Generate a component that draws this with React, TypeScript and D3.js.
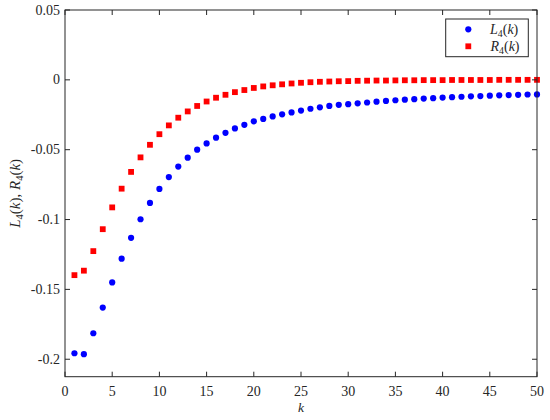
import React from "react";
import * as d3 from "d3";

const kValues = [1,2,3,4,5,6,7,8,9,10,11,12,13,14,15,16,17,18,19,20,21,22,23,24,25,26,27,28,29,30,31,32,33,34,35,36,37,38,39,40,41,42,43,44,45,46,47,48,49,50];

const L4 = [
  -0.1957, -0.1964, -0.1814, -0.1630, -0.1450, -0.1280, -0.1131, -0.0998, -0.0881, -0.0781,
  -0.0696, -0.0621, -0.0557, -0.0500, -0.0455, -0.0414, -0.0379, -0.0348, -0.0322, -0.0297,
  -0.0280, -0.0262, -0.0247, -0.0233, -0.0220, -0.0207, -0.0197, -0.0187, -0.0179, -0.0174,
  -0.0168, -0.0162, -0.0156, -0.0151, -0.0146, -0.0142, -0.0138, -0.0134, -0.0131, -0.0127,
  -0.0124, -0.0121, -0.0118, -0.0116, -0.0113, -0.0111, -0.0109, -0.0107, -0.0105, -0.0104,
];

const R4 = [
  -0.1398, -0.1366, -0.1226, -0.1069, -0.0913, -0.0779, -0.0659, -0.0555, -0.0465, -0.0389,
  -0.0326, -0.0271, -0.0226, -0.0187, -0.0155, -0.0128, -0.0107, -0.0088, -0.0073, -0.0058,
  -0.0047, -0.0039, -0.0032, -0.0026, -0.0021, -0.0017, -0.0014, -0.0012, -0.0010, -0.0009,
  -0.0007, -0.0006, -0.0005, -0.0005, -0.0004, -0.0003, -0.0003, -0.0002, -0.0002, -0.0002,
  -0.0001, -0.0001, -0.0001, -0.0001, -0.0001, 0, 0, 0, 0, 0,
];

const xTicks = [0, 5, 10, 15, 20, 25, 30, 35, 40, 45, 50];
const yTicks = [0.05, 0, -0.05, -0.1, -0.15, -0.2];
const yTickLabels = ["0.05", "0", "-0.05", "-0.1", "-0.15", "-0.2"];

const W = 550;
const H = 420;
const left = 65;
const right = 537;
const top = 10;
const bottom = 376.7;

const serif = "Liberation Serif";
const axisColor = "#262626";

function MathLabel({ letter, fontSize }: { letter: string; fontSize: number }) {
  return (
    <>
      <tspan fontStyle="italic">{letter}</tspan>
      <tspan fontSize={fontSize * 0.7} dy={fontSize * 0.22}>4</tspan>
      <tspan dy={-fontSize * 0.22}>(</tspan>
      <tspan fontStyle="italic">k</tspan>
      <tspan>)</tspan>
    </>
  );
}

export default function App() {
  const x = d3.scaleLinear().domain([0, 50]).range([left, right]);
  const y = d3.scaleLinear().domain([-0.2125, 0.05]).range([bottom, top]);
  const tickLen = 5;
  const sq = 5.8;
  const ts = { fontFamily: serif };

  return (
    <svg
      width={W}
      height={H}
      style={{ position: "fixed", left: 0, top: 0, background: "#fff", fontFamily: serif }}
    >
      <rect x={0} y={0} width={W} height={H} fill="#fff" />
      {kValues.map((k, i) => (
        <circle key={"l" + k} cx={x(k)} cy={y(L4[i])} r={3.1} fill="#0000ff" />
      ))}
      {kValues.map((k, i) => (
        <rect
          key={"r" + k}
          x={x(k) - sq / 2}
          y={y(R4[i]) - sq / 2}
          width={sq}
          height={sq}
          fill="#ff0000"
        />
      ))}

      <rect
        x={left}
        y={top}
        width={right - left}
        height={bottom - top}
        fill="none"
        stroke={axisColor}
        strokeWidth={1}
      />
      {xTicks.map((t) => (
        <g key={"xt" + t}>
          <line x1={x(t)} x2={x(t)} y1={bottom} y2={bottom - tickLen} stroke={axisColor} />
          <line x1={x(t)} x2={x(t)} y1={top} y2={top + tickLen} stroke={axisColor} />
          <text x={x(t)} y={396} fontSize={14} textAnchor="middle" fill="#262626" style={ts}>
            {t}
          </text>
        </g>
      ))}
      {yTicks.map((t, i) => (
        <g key={"yt" + t}>
          <line x1={left} x2={left + tickLen} y1={y(t)} y2={y(t)} stroke={axisColor} />
          <line x1={right} x2={right - tickLen} y1={y(t)} y2={y(t)} stroke={axisColor} />
          <text x={60} y={y(t) + 4.5} fontSize={14} textAnchor="end" fill="#262626" style={ts}>
            {yTickLabels[i]}
          </text>
        </g>
      ))}

      <text x={(left + right) / 2} y={412} fontSize={13.5} fontStyle="italic" textAnchor="middle" fill="#262626" style={ts}>
        k
      </text>
      <text
        transform={`translate(20, ${(top + bottom) / 2}) rotate(-90)`}
        fontSize={15}
        textAnchor="middle"
        fill="#262626"
        style={ts}
      >
        <MathLabel letter="L" fontSize={15} />
        <tspan>, </tspan>
        <MathLabel letter="R" fontSize={15} />
      </text>

      <rect x={445.7} y={19} width={82.6} height={37.7} fill="#fff" stroke={axisColor} strokeWidth={1} />
      <circle cx={468.3} cy={29.3} r={3.1} fill="#0000ff" />
      <rect x={468.3 - sq / 2} y={46.3 - sq / 2} width={sq} height={sq} fill="#ff0000" />
      <text x={490} y={33.5} fontSize={14} fill="#262626" style={ts}>
        <MathLabel letter="L" fontSize={14} />
      </text>
      <text x={490.5} y={50.5} fontSize={14} fill="#262626" style={ts}>
        <MathLabel letter="R" fontSize={14} />
      </text>
    </svg>
  );
}
